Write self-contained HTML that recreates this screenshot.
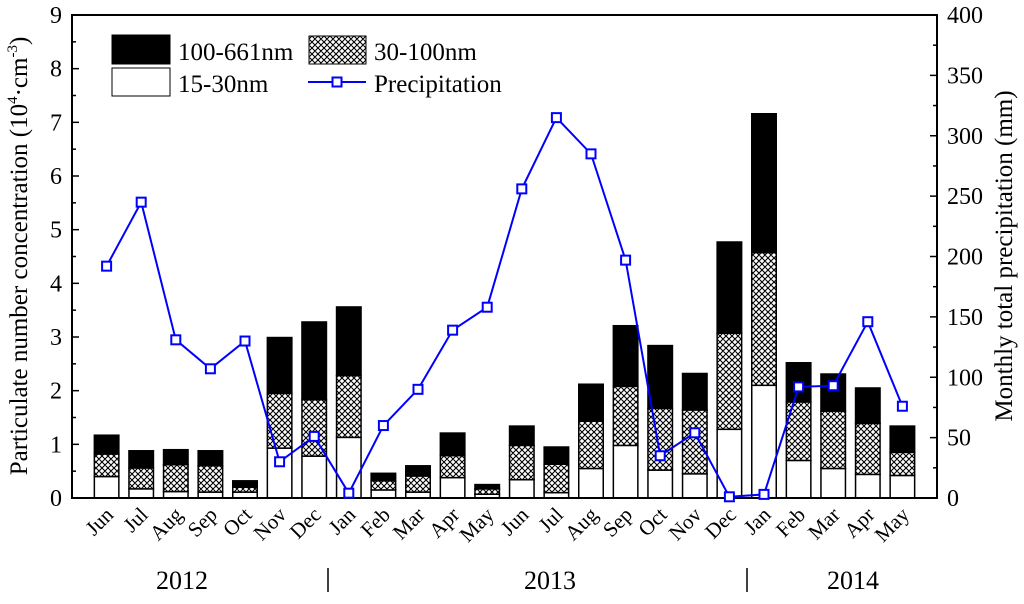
<!DOCTYPE html>
<html><head><meta charset="utf-8"><style>
body{margin:0;background:#fff}
svg text{font-family:"Liberation Serif",serif;fill:#000}
</style></head><body>
<svg id="c" width="1024" height="599" xmlns="http://www.w3.org/2000/svg">
<defs>
<pattern id="hatch" width="6" height="6" patternUnits="userSpaceOnUse">
<rect width="6" height="6" fill="#fff"/>
<path d="M0,0L6,6M6,0L0,6M-1,5L1,7M5,-1L7,1M-1,1L1,-1M5,7L7,5" stroke="#000" stroke-width="1.1"/>
</pattern>
</defs>
<g id="bars"></g>
<g id="axes"></g>
<g id="line"></g>
<text x="27" y="256" font-size="25" text-anchor="middle" transform="rotate(-90 27 256)">Particulate number concentration (10<tspan font-size="15" dy="-10">4</tspan><tspan dy="10">·cm</tspan><tspan font-size="15" dy="-10">-3</tspan><tspan dy="10">)</tspan></text>
<text x="1012" y="256" font-size="25" text-anchor="middle" transform="rotate(-90 1012 256)">Monthly total precipitation (mm)</text>
<g>
<rect x="112" y="35" width="58" height="29" fill="#000" stroke="#000"/>
<text x="178" y="60" font-size="25">100-661nm</text>
<rect x="309" y="36" width="57" height="28" fill="url(#hatch)" stroke="#000"/>
<text x="374" y="60" font-size="25">30-100nm</text>
<rect x="112" y="68" width="58" height="28" fill="#fff" stroke="#000"/>
<text x="178" y="92" font-size="25">15-30nm</text>
<line x1="308" y1="82" x2="366" y2="82" stroke="#0000ff" stroke-width="2"/>
<rect x="332.5" y="77.5" width="9" height="9" fill="#fff" stroke="#0000ff" stroke-width="2"/>
<text x="374" y="92" font-size="25">Precipitation</text>
</g>
<text x="182" y="589" font-size="26" text-anchor="middle">2012</text>
<text x="550" y="589" font-size="26" text-anchor="middle">2013</text>
<text x="853" y="589" font-size="26" text-anchor="middle">2014</text>
<line x1="328" y1="568" x2="328" y2="592" stroke="#000" stroke-width="1.5"/>
<line x1="747" y1="568" x2="747" y2="592" stroke="#000" stroke-width="1.5"/>
</svg>
<script>
const months=["Jun","Jul","Aug","Sep","Oct","Nov","Dec","Jan","Feb","Mar","Apr","May","Jun","Jul","Aug","Sep","Oct","Nov","Dec","Jan","Feb","Mar","Apr","May"];
const small=[0.4,0.17,0.12,0.11,0.11,0.93,0.78,1.13,0.15,0.11,0.38,0.07,0.34,0.1,0.55,0.98,0.52,0.45,1.28,2.1,0.7,0.55,0.44,0.42];
const mid=[0.42,0.39,0.5,0.49,0.09,1.02,1.05,1.15,0.17,0.3,0.41,0.1,0.64,0.53,0.88,1.1,1.15,1.19,1.79,2.47,1.09,1.07,0.95,0.43];
const large=[0.35,0.32,0.28,0.28,0.12,1.04,1.45,1.28,0.14,0.19,0.42,0.08,0.36,0.32,0.69,1.13,1.17,0.68,1.7,2.59,0.73,0.69,0.66,0.49];
const precip=[192,245,131,107,130,30,51,4,60,90,139,158,256,315,285,197,35,54,1,3,92,93,146,76];
const leftTicks=[0,1,2,3,4,5,6,7,8,9];
const rightTicks=[0,50,100,150,200,250,300,350,400];
const NS="http://www.w3.org/2000/svg";
const X0=72,X1=937,Y0=498,Y1=15;
const step=(X1-X0)/(months.length+1);
const xs=i=>X0+step*(i+1);
const yL=v=>Y0-(v/9)*(Y0-Y1);
const yR=v=>Y0-(v/400)*(Y0-Y1);
function mk(t,a,p){const e=document.createElementNS(NS,t);for(const k in a)e.setAttribute(k,a[k]);p.appendChild(e);return e;}
const bars=document.getElementById('bars'),axes=document.getElementById('axes'),line=document.getElementById('line');
const bw=24.5;
months.forEach((m,i)=>{
  const a=small[i],b=a+mid[i],c=b+large[i];
  let r=mk('rect',{x:xs(i)-bw/2,y:yL(a),width:bw,height:yL(0)-yL(a),fill:'#fff',stroke:'#000','stroke-width':1.5},bars);
  
  
  r=mk('rect',{x:xs(i)-bw/2,y:yL(b),width:bw,height:yL(a)-yL(b),fill:'url(#hatch)',stroke:'#000','stroke-width':1.5},bars);
  
  
  r=mk('rect',{x:xs(i)-bw/2,y:yL(c),width:bw,height:yL(b)-yL(c),fill:'#000',stroke:'#000','stroke-width':1.5},bars);
  
  
  const tx=xs(i)+8,ty=516;
  const t=mk('text',{x:tx,y:ty,'font-size':21,'text-anchor':'end',transform:`rotate(-45 ${tx} ${ty})`},axes);
  t.textContent=m;
  
  
});
let f=mk('path',{d:`M${X0},${Y0}H${X1}V${Y1}H${X0}Z`,fill:'none',stroke:'#000','stroke-width':2},axes);


leftTicks.forEach(v=>{
  mk('line',{x1:X0,x2:X0+7,y1:yL(v),y2:yL(v),stroke:'#000','stroke-width':1.5},axes);
  if(v<9)mk('line',{x1:X0,x2:X0+4,y1:yL(v+0.5),y2:yL(v+0.5),stroke:'#000','stroke-width':1.5},axes);
  const t=mk('text',{x:X0-10,y:yL(v)+8,'font-size':24,'text-anchor':'end'},axes);
  t.textContent=v;
  
  
});
rightTicks.forEach(v=>{
  mk('line',{x1:X1,x2:X1-7,y1:yR(v),y2:yR(v),stroke:'#000','stroke-width':1.5},axes);
  if(v<400)mk('line',{x1:X1,x2:X1-4,y1:yR(v+25),y2:yR(v+25),stroke:'#000','stroke-width':1.5},axes);
  const t=mk('text',{x:X1+10,y:yR(v)+8,'font-size':24,'text-anchor':'start'},axes);
  t.textContent=v;
  
  
});
const pl=mk('polyline',{points:precip.map((v,i)=>xs(i)+','+yR(v)).join(' '),fill:'none',stroke:'#0000ff','stroke-width':2},line);


precip.forEach((v,i)=>{
  const r=mk('rect',{x:xs(i)-4.5,y:yR(v)-4.5,width:9,height:9,fill:'#fff',stroke:'#0000ff','stroke-width':2},line);
  
  
});
</script>
</body></html>
